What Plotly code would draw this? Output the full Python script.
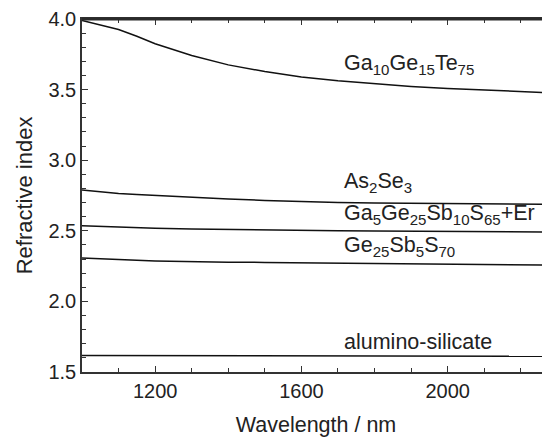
import plotly.graph_objects as go

wavelength = [1000, 1050, 1100, 1150, 1200, 1300, 1400, 1500, 1600, 1700, 1800, 1900, 2000, 2100, 2200, 2280]
n_GaGeTe = [3.990, 3.960, 3.925, 3.878, 3.825, 3.742, 3.675, 3.628, 3.590, 3.563, 3.540, 3.522, 3.507, 3.495, 3.485, 3.478]
n_As2Se3 = [2.789, 2.776, 2.765, 2.757, 2.750, 2.737, 2.725, 2.715, 2.707, 2.701, 2.697, 2.694, 2.691, 2.689, 2.688, 2.687]
n_GaGeSbS_Er = [2.536, 2.531, 2.526, 2.522, 2.518, 2.513, 2.509, 2.506, 2.503, 2.501, 2.499, 2.497, 2.495, 2.494, 2.492, 2.491]
n_GeSbS = [2.308, 2.301, 2.295, 2.291, 2.287, 2.281, 2.278, 2.276, 2.274, 2.271, 2.269, 2.266, 2.264, 2.261, 2.259, 2.257]
n_alumino = [1.617, 1.617, 1.617, 1.616, 1.616, 1.616, 1.615, 1.615, 1.614, 1.614, 1.614, 1.613, 1.613, 1.613, 1.612, 1.612]

series = [n_GaGeTe, n_As2Se3, n_GaGeSbS_Er, n_GeSbS, n_alumino]
labels = ["Ga<sub>10</sub>Ge<sub>15</sub>Te<sub>75</sub>",
          "As<sub>2</sub>Se<sub>3</sub>",
          "Ga<sub>5</sub>Ge<sub>25</sub>Sb<sub>10</sub>S<sub>65</sub>+Er",
          "Ge<sub>25</sub>Sb<sub>5</sub>S<sub>70</sub>",
          "alumino-silicate"]
label_x = [1712, 1712, 1712, 1712, 1712]
label_y = [3.678, 2.841, 2.617, 2.389, 1.714]

FONT = "Liberation Sans, Arial, Helvetica, sans-serif"
fig = go.Figure()
for s in series:
    fig.add_trace(go.Scatter(x=wavelength, y=s, mode="lines",
                             line=dict(color="#111111", width=1.5),
                             showlegend=False, hoverinfo="skip"))
for t, x, y in zip(labels, label_x, label_y):
    fig.add_annotation(x=x, y=y, text=t, showarrow=False, xanchor="left", yanchor="middle",
                       font=dict(family=FONT, size=21.5, color="#222222"))

# top frame line
fig.add_shape(type="line", xref="paper", yref="paper", x0=0, x1=1, y0=1, y1=1,
              line=dict(color="#2a2a2a", width=3))

fig.update_layout(
    width=542, height=435,
    margin=dict(l=74, r=0, t=7, b=71),
    paper_bgcolor="white", plot_bgcolor="white",
    font=dict(family=FONT, size=20, color="#222222"),
    xaxis=dict(range=[1000, 2280], tickvals=[1200, 1600, 2000],
               ticks="inside", ticklen=6, tickwidth=1.3, tickcolor="#333333",
               minor=dict(dtick=100, tick0=1000, ticks="inside", ticklen=4, tickcolor="#333333", tickwidth=1.2),
               showline=True, linecolor="#333333", linewidth=1.6, mirror="ticks",
               showgrid=False, zeroline=False, ticklabeloverflow="allow",
               title=dict(text="Wavelength / nm", standoff=16, font=dict(size=21.5))),
    yaxis=dict(range=[1.5, 4.0], tickvals=[1.5, 2.0, 2.5, 3.0, 3.5, 4.0], ticktext=["1.5", "2.0", "2.5", "3.0", "3.5", "4.0"],
               ticks="inside", ticklen=6, tickwidth=1.3, tickcolor="#333333",
               minor=dict(dtick=0.1, tick0=1.5, ticks="inside", ticklen=4, tickcolor="#333333", tickwidth=1.2),
               showline=True, linecolor="#333333", linewidth=1.6, mirror=False,
               showgrid=False, zeroline=False, ticklabeloverflow="allow",
               title=dict(text="Refractive index", standoff=10, font=dict(size=22))),
)
fig.write_html("out.html")
